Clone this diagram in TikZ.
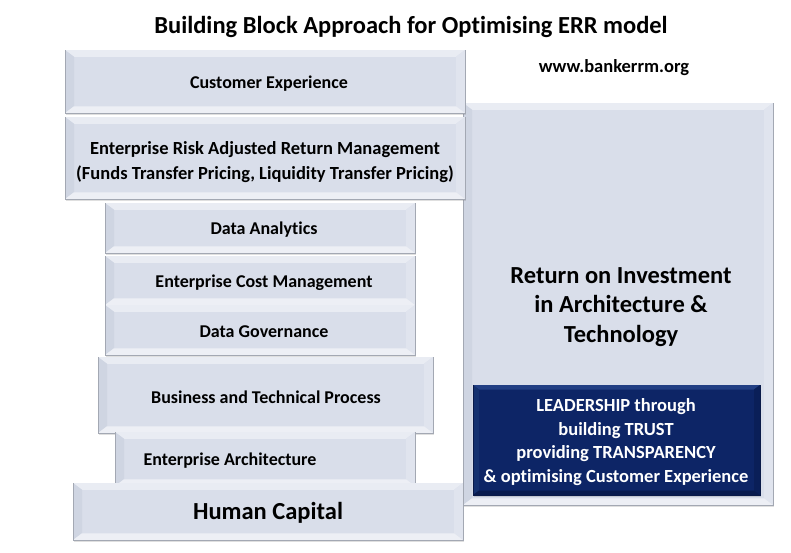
\documentclass[tikz,border=0pt]{standalone}
\usepackage{fontspec}
\setmainfont{Carlito}[Ligatures={NoCommon}]
\usetikzlibrary{shadows}
\definecolor{lface}{HTML}{D9DEEA}
\definecolor{ltop}{HTML}{E9ECF3}
\definecolor{lleft}{HTML}{CFD5E2}
\definecolor{lright}{HTML}{E0E4EE}
\definecolor{lbottom}{HTML}{EDEFF5}
\definecolor{lline}{HTML}{A3A8B3}
\definecolor{dface}{HTML}{0D2566}
\definecolor{dtop}{HTML}{223F84}
\definecolor{dleft}{HTML}{15316F}
\definecolor{dright}{HTML}{0A1F58}
\definecolor{dbottom}{HTML}{091B4E}
\definecolor{dline}{HTML}{0A1A48}
\tikzset{
  boxbase/.style={rectangle, inner sep=0pt, outer sep=0pt, line width=0.5pt,
    drop shadow={opacity=0.25, shadow xshift=1pt, shadow yshift=-1.5pt}},
  lbl/.style={inner sep=0pt, align=center, font=\bfseries\fontsize{18}{22}\selectfont},
}
\newcommand\bblock[7]{%
  \pgfmathsetmacro\bw{#4-#2}\pgfmathsetmacro\bh{#5-#3}%
  \node[boxbase, fill=#7face, minimum width=\bw pt, minimum height=\bh pt] (#1) at ({(#2+#4)/2},{(#3+#5)/2}) {};
  \fill[#7top] (#1.north west) -- (#1.north east) -- ([shift={(-#6pt,-0.75*#6pt)}]#1.north east) -- ([shift={(#6pt,-0.75*#6pt)}]#1.north west) -- cycle;
  \fill[#7left] (#1.north west) -- ([shift={(#6pt,-0.75*#6pt)}]#1.north west) -- ([shift={(#6pt,0.75*#6pt)}]#1.south west) -- (#1.south west) -- cycle;
  \fill[#7right] (#1.north east) -- ([shift={(-#6pt,-0.75*#6pt)}]#1.north east) -- ([shift={(-#6pt,0.75*#6pt)}]#1.south east) -- (#1.south east) -- cycle;
  \fill[#7bottom] (#1.south west) -- ([shift={(#6pt,0.75*#6pt)}]#1.south west) -- ([shift={(-#6pt,0.75*#6pt)}]#1.south east) -- (#1.south east) -- cycle;
  \draw[#7line, line width=0.8pt] (#1.north west) -- (#1.south west) -- (#1.south east) -- (#1.north east);
}
\begin{document}
\begin{tikzpicture}[x=1pt, y=-1pt]
\useasboundingbox[fill=white] (0,0) rectangle (791,552);
% title
\node[lbl, font=\bfseries\fontsize{24.5}{28}\selectfont] (title) at (411,27) {Building Block Approach for Optimising ERR model};
\node[lbl, font=\bfseries\fontsize{18.5}{22}\selectfont] (web) at (614,68) {www.bankerrm.org};
% right column
\bblock{roi}{463}{103}{773}{505}{9}{l}
\node[lbl, font=\bfseries\fontsize{24.5}{29.5}\selectfont] (roit) at (621,307) {Return on Investment\\in Architecture \&\\Technology};
\bblock{lead}{473}{385}{760}{495}{6}{d}
\node[lbl, text=white, font=\bfseries\fontsize{18.5}{23.5}\selectfont] (leadt) at (616,442) {LEADERSHIP through\\building TRUST\\providing TRANSPARENCY\\\& optimising Customer Experience};
% left stack
\bblock{ce}{65}{50}{465}{113}{9}{l}
\node[lbl] (cet) at (269,84) {Customer Experience};
\bblock{erarm}{65}{117}{465}{199}{9}{l}
\node[lbl, font=\bfseries\fontsize{18.5}{25}\selectfont] (erarmt) at (265,162) {Enterprise Risk Adjusted Return Management\\(Funds Transfer Pricing, Liquidity Transfer Pricing)};
\bblock{da}{105}{203}{415}{253}{9}{l}
\node[lbl] (dat) at (264,230) {Data Analytics};
\bblock{ecm}{105}{256}{415}{305}{9}{l}
\node[lbl] (ecmt) at (264,283) {Enterprise Cost Management};
\bblock{dg}{105}{305}{415}{355}{9}{l}
\node[lbl] (dgt) at (264,332) {Data Governance};
\bblock{btp}{98}{357}{433}{433}{9}{l}
\node[lbl] (btpt) at (266,397) {Business and Technical Process};
\bblock{ea}{115}{432}{415}{486}{9}{l}
\node[lbl] (eat) at (230,461) {Enterprise Architecture};
\bblock{hc}{73}{483}{463}{540}{9}{l}
\node[lbl, font=\bfseries\fontsize{24.5}{28}\selectfont] (hct) at (268,513) {Human Capital};
\end{tikzpicture}
\end{document}
